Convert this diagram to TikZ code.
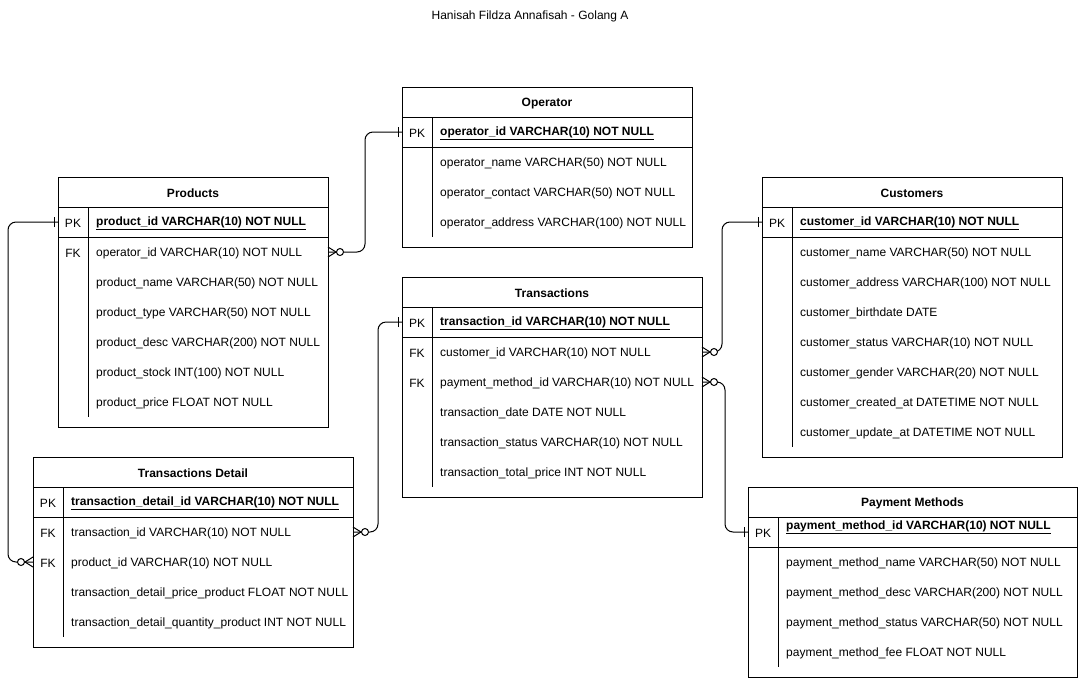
\documentclass[tikz,border=0pt]{standalone}
\usepackage{fontspec}
\setmainfont{Liberation Sans}
\usetikzlibrary{calc}
\tikzset{
  frame/.style={draw=black, line width=1pt},
  hdr/.style={font=\bfseries\fontsize{12}{14}\selectfont, inner sep=0pt, yshift=-1.5pt},
  rowb/.style={inner sep=0pt, outer sep=0pt, minimum height=30pt},
  keyt/.style={font=\fontsize{12}{14}\selectfont, inner sep=0pt, yshift=-1.5pt},
  txt/.style={font=\fontsize{12}{14}\selectfont, inner sep=0pt, anchor=west, yshift=-1.5pt},
  conn/.style={line width=1pt, rounded corners=8pt},
  zmany/.pic={\draw[line width=1pt] (0,-5) -- (8,0) -- (0,5);
              \draw[line width=1pt, fill=white] (12,0) circle[radius=3.5pt];},
  onebar/.pic={\draw[line width=1pt] (4,-5) -- (4,5);}
}
% #1 name, #2 x0, #3 y0, #4 x1, #5 y1, #6 title, #7 bottom of key column line
\newcommand\etable[7]{%
  \draw[frame] (#2,#3) rectangle (#4,#5);
  \node[hdr] (#1) at ({(#2+#4)/2},{#3+15}) {#6};
  \draw[frame] (#2,{#3+30}) -- (#4,{#3+30});
  \draw[frame] (#2,{#3+60}) -- (#4,{#3+60});
  \draw[frame] ({#2+30},{#3+30}) -- ({#2+30},#7);
}
% #1 name, #2 x0, #3 x1, #4 y, #5 key, #6 text
\newcommand\erow[6]{%
  \pgfmathsetmacro\rw{#3-#2}%
  \node[rowb, minimum width=\rw pt] (#1) at ({(#2+#3)/2},#4) {};
  \node[keyt] at ({#2+15},#4) {#5};
  \node[txt] at ({#2+38},#4) {#6};
}
\newcommand\pktext[1]{\underline{\textbf{#1}}}
\begin{document}
\begin{tikzpicture}[x=1pt,y=-1pt]
\useasboundingbox (0,0) rectangle (1079,678);
\node[keyt] (title) at (530,15) {Hanisah Fildza Annafisah - Golang A};

% Operator
\etable{op}{402}{87}{692}{247}{Operator}{237}
\erow{op-pk}{402}{692}{132}{PK}{\pktext{operator\_id VARCHAR(10) NOT NULL}}
\erow{op-r1}{402}{692}{162}{}{operator\_name VARCHAR(50) NOT NULL}
\erow{op-r2}{402}{692}{192}{}{operator\_contact VARCHAR(50) NOT NULL}
\erow{op-r3}{402}{692}{222}{}{operator\_address VARCHAR(100) NOT NULL}

% Products
\etable{prod}{58}{177}{328}{427}{Products}{417}
\erow{prod-pk}{58}{328}{222}{PK}{\pktext{product\_id VARCHAR(10) NOT NULL}}
\erow{prod-op}{58}{328}{252}{FK}{operator\_id VARCHAR(10) NOT NULL}
\erow{prod-r2}{58}{328}{282}{}{product\_name VARCHAR(50) NOT NULL}
\erow{prod-r3}{58}{328}{312}{}{product\_type VARCHAR(50) NOT NULL}
\erow{prod-r4}{58}{328}{342}{}{product\_desc VARCHAR(200) NOT NULL}
\erow{prod-r5}{58}{328}{372}{}{product\_stock INT(100) NOT NULL}
\erow{prod-r6}{58}{328}{402}{}{product\_price FLOAT NOT NULL}

% Customers
\etable{cu}{762}{177}{1062}{457}{Customers}{447}
\erow{cu-pk}{762}{1062}{222}{PK}{\pktext{customer\_id VARCHAR(10) NOT NULL}}
\erow{cu-r1}{762}{1062}{252}{}{customer\_name VARCHAR(50) NOT NULL}
\erow{cu-r2}{762}{1062}{282}{}{customer\_address VARCHAR(100) NOT NULL}
\erow{cu-r3}{762}{1062}{312}{}{customer\_birthdate DATE}
\erow{cu-r4}{762}{1062}{342}{}{customer\_status VARCHAR(10) NOT NULL}
\erow{cu-r5}{762}{1062}{372}{}{customer\_gender VARCHAR(20) NOT NULL}
\erow{cu-r6}{762}{1062}{402}{}{customer\_created\_at DATETIME NOT NULL}
\erow{cu-r7}{762}{1062}{432}{}{customer\_update\_at DATETIME NOT NULL}

% Transactions
\etable{tr}{402}{277}{702}{497}{Transactions}{487}
\erow{tr-pk}{402}{702}{322}{PK}{\pktext{transaction\_id VARCHAR(10) NOT NULL}}
\erow{tr-cu}{402}{702}{352}{FK}{customer\_id VARCHAR(10) NOT NULL}
\erow{tr-pm}{402}{702}{382}{FK}{payment\_method\_id VARCHAR(10) NOT NULL}
\erow{tr-r3}{402}{702}{412}{}{transaction\_date DATE NOT NULL}
\erow{tr-r4}{402}{702}{442}{}{transaction\_status VARCHAR(10) NOT NULL}
\erow{tr-r5}{402}{702}{472}{}{transaction\_total\_price INT NOT NULL}

% Transactions Detail
\etable{td}{33}{457}{353}{647}{Transactions Detail}{637}
\erow{td-pk}{33}{353}{502}{PK}{\pktext{transaction\_detail\_id VARCHAR(10) NOT NULL}}
\erow{td-tr}{33}{353}{532}{FK}{transaction\_id VARCHAR(10) NOT NULL}
\erow{td-prod}{33}{353}{562}{FK}{product\_id VARCHAR(10) NOT NULL}
\erow{td-r3}{33}{353}{592}{}{transaction\_detail\_price\_product FLOAT NOT NULL}
\erow{td-r4}{33}{353}{622}{}{transaction\_detail\_quantity\_product INT NOT NULL}

% Payment Methods
\etable{pm}{748}{487}{1077}{677}{Payment Methods}{667}
\erow{pm-pk}{748}{1077}{532}{PK}{}
\node[txt] (pm-pktext) at (786,526) {\pktext{payment\_method\_id VARCHAR(10) NOT NULL}};
\erow{pm-r1}{748}{1077}{562}{}{payment\_method\_name VARCHAR(50) NOT NULL}
\erow{pm-r2}{748}{1077}{592}{}{payment\_method\_desc VARCHAR(200) NOT NULL}
\erow{pm-r3}{748}{1077}{622}{}{payment\_method\_status VARCHAR(50) NOT NULL}
\erow{pm-r4}{748}{1077}{652}{}{payment\_method\_fee FLOAT NOT NULL}

% Connectors
\draw[conn] (prod-op.east) -- ([xshift=37pt]prod-op.east) |- (op-pk.west);
\draw[conn] (td-prod.west) -- ([xshift=-25pt]td-prod.west) |- (prod-pk.west);
\draw[conn] (td-tr.east) -- ([xshift=25pt]td-tr.east) |- (tr-pk.west);
\draw[conn] (tr-cu.east) -- ([xshift=20pt]tr-cu.east) |- (cu-pk.west);
\draw[conn] (tr-pm.east) -- ([xshift=23pt]tr-pm.east) |- (pm-pk.west);

% Ends
\pic at (prod-op.east) {zmany};
\pic[rotate=180] at (op-pk.west) {onebar};
\pic[rotate=180] at (td-prod.west) {zmany};
\pic[rotate=180] at (prod-pk.west) {onebar};
\pic at (td-tr.east) {zmany};
\pic[rotate=180] at (tr-pk.west) {onebar};
\pic at (tr-cu.east) {zmany};
\pic[rotate=180] at (cu-pk.west) {onebar};
\pic at (tr-pm.east) {zmany};
\pic[rotate=180] at (pm-pk.west) {onebar};
\end{tikzpicture}
\end{document}
